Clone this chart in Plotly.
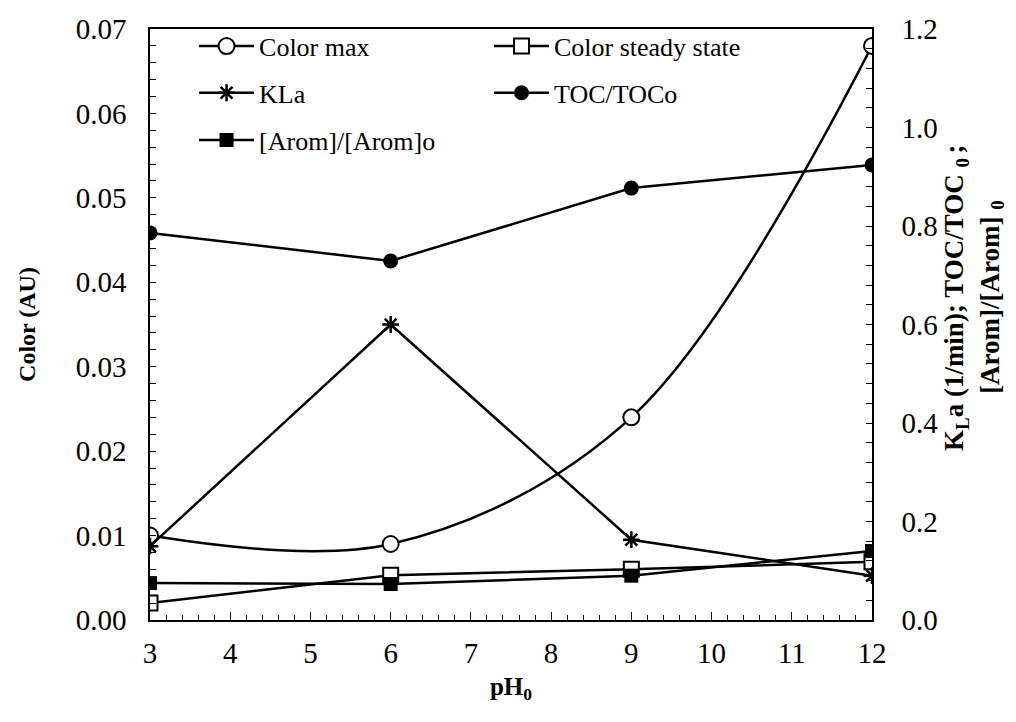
import plotly.graph_objects as go

ph = [3, 6, 9, 12]
color_max = [0.010, 0.009, 0.024, 0.068]
color_ss = [0.002, 0.0053, 0.006, 0.0069]
kla = [0.150, 0.600, 0.163, 0.090]
toc = [0.786, 0.729, 0.877, 0.924]
arom = [0.075, 0.073, 0.090, 0.140]

FONT = "Liberation Serif"
LW = 2.5
fig = go.Figure()

fig.add_trace(go.Scatter(x=ph, y=color_max, name="Color max", mode="lines+markers",
                         line=dict(color="black", width=LW, shape="spline", smoothing=1.0),
                         marker=dict(symbol="circle", size=16, color="white",
                                     line=dict(color="black", width=2)),
                         legend="legend"))
fig.add_trace(go.Scatter(x=ph, y=color_ss, name="Color steady state", mode="lines+markers",
                         line=dict(color="black", width=LW),
                         marker=dict(symbol="square", size=15, color="white",
                                     line=dict(color="black", width=2)),
                         legend="legend2"))
fig.add_trace(go.Scatter(x=ph, y=kla, name="KLa", mode="lines+markers", yaxis="y2",
                         line=dict(color="black", width=LW),
                         marker=dict(symbol="asterisk-open", size=14,
                                     line=dict(color="black", width=2.5)),
                         legend="legend3"))
fig.add_trace(go.Scatter(x=ph, y=toc, name="TOC/TOCo", mode="lines+markers", yaxis="y2",
                         line=dict(color="black", width=LW),
                         marker=dict(symbol="circle", size=15, color="black"),
                         legend="legend4"))
fig.add_trace(go.Scatter(x=ph, y=arom, name="[Arom]/[Arom]o", mode="lines+markers", yaxis="y2",
                         line=dict(color="black", width=LW),
                         marker=dict(symbol="square", size=14, color="black"),
                         legend="legend5"))


def leg(x, y):
    return dict(orientation="v", xanchor="left", yanchor="middle", x=x, y=y,
                itemwidth=55, bgcolor="rgba(0,0,0,0)",
                font=dict(family=FONT, size=26, color="black"))


COL1, COL2 = 0.061, 0.4695
ROW1, ROW2, ROW3 = 0.971, 0.892, 0.812

axis_font = dict(family=FONT, size=29, color="black")
left_title_font = dict(family=FONT, size=24, color="black")
x_title_font = dict(family=FONT, size=25, color="black")
right_title_font = dict(family=FONT, size=27, color="black")

fig.update_layout(
    width=1016, height=722,
    margin=dict(l=150, r=144, t=29, b=102),
    paper_bgcolor="white", plot_bgcolor="white",
    showlegend=True,
    legend=leg(COL1, ROW1),
    legend2=leg(COL2, ROW1),
    legend3=leg(COL1, ROW2),
    legend4=leg(COL2, ROW2),
    legend5=leg(COL1, ROW3),
    xaxis=dict(range=[3, 12], tickmode="array", tickvals=list(range(3, 13)),
               ticks="inside", ticklen=8, tickwidth=1, tickcolor="black",
               minor=dict(ticks="inside", ticklen=5, dtick=0.2, tickcolor="black", tickwidth=1),
               showline=True, linecolor="black", linewidth=1.5, mirror=True,
               showgrid=False, zeroline=False, tickfont=axis_font, ticklabelstandoff=6,
               title=dict(text="<b>pH<sub>0</sub></b>", font=x_title_font, standoff=10)),
    yaxis=dict(range=[0, 0.07], dtick=0.01, tickformat=".2f",
               ticks="inside", ticklen=6, tickwidth=1, tickcolor="black",
               minor=dict(ticks="inside", ticklen=6, dtick=0.002, tickcolor="black", tickwidth=1),
               showline=True, linecolor="black", linewidth=1.5,
               showgrid=False, zeroline=False, tickfont=axis_font, ticklabelstandoff=16,
               title=dict(text="<b>Color (AU)</b>", font=left_title_font, standoff=33)),
    yaxis2=dict(range=[0, 1.2], dtick=0.2, tickformat=".1f", overlaying="y", side="right",
                ticks="inside", ticklen=6, tickwidth=1, tickcolor="black",
                minor=dict(ticks="inside", ticklen=6, dtick=0.04, tickcolor="black", tickwidth=1),
                showline=True, linecolor="black", linewidth=1.5,
                showgrid=False, zeroline=False, tickfont=axis_font, ticklabelstandoff=22),
    annotations=[
        dict(text="<b>K<sub>L</sub>a (1/min); TOC/TOC <sub>0 </sub>;</b>", xref="paper", yref="paper",
             x=1.1163, y=0.5465, textangle=-90, showarrow=False, xanchor="center", yanchor="middle",
             font=right_title_font),
        dict(text="<b>[Arom]/[Arom] <sub>0</sub></b>", xref="paper", yref="paper",
             x=1.166, y=0.5465, textangle=-90, showarrow=False, xanchor="center", yanchor="middle",
             font=right_title_font),
    ],
)

fig.write_html("out.html")
